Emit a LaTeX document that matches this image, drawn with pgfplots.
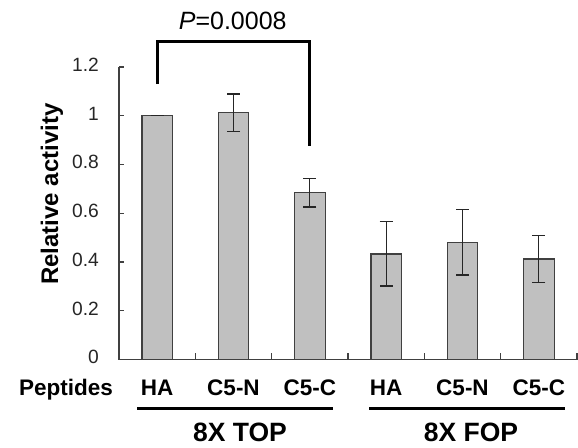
\documentclass[border=0pt]{standalone}
\usepackage{pgfplots}
\pgfplotsset{compat=1.18}
\usepackage{fontspec}
\setmainfont{Liberation Sans}
\definecolor{barfill}{HTML}{C0C0C0}
\definecolor{edge}{HTML}{404040}
\definecolor{axiscol}{HTML}{404040}
\definecolor{errcol}{HTML}{262626}
\begin{document}
\begin{tikzpicture}
\path[use as bounding box] (-119bp,-88.5bp) rectangle (459bp,359.5bp);
\begin{axis}[
  at={(0,0)}, anchor=south west,
  scale only axis, width=458bp, height=292.5bp,
  xmin=-0.5, xmax=5.5, ymin=0, ymax=1.2,
  axis x line*=bottom, axis y line*=left,
  axis line style={draw=axiscol, line width=1.2bp},
  ybar, bar width=0.4,
  clip=false,
  xtick={0,1,2,3,4,5},
  xticklabels={HA,C5-N,C5-C,HA,C5-N,C5-C},
  major x tick style={draw=none},
  minor xtick={0.5,1.5,2.5,3.5,4.5,5.5},
  minor x tick style={draw=axiscol, line width=1.2bp},
  minor tick length=6bp,
  major tick length=5bp,
  tick align=inside,
  ytick={0,0.2,0.4,0.6,0.8,1,1.2},
  yticklabels={0,0.2,0.4,0.6,0.8,1,1.2},
  y tick style={draw=axiscol, line width=1.2bp},
  xticklabel style={anchor=base, yshift=-36bp, inner sep=0pt, font=\fontsize{22.5bp}{26bp}\selectfont\bfseries},
  yticklabel style={anchor=east, inner sep=0pt, xshift=-20bp, font=\fontsize{19.2bp}{22bp}\selectfont, text=black!85},
  typeset ticklabels with strut,
]
\addplot[fill=barfill, draw=edge, line width=1.2bp,
  error bars/.cd, y dir=both, y explicit,
  error bar style={line width=1.3bp, color=errcol},
  error mark options={rotate=90, mark size=6.5bp, line width=1.3bp, color=errcol}]
  table[x=x, y=y, y error=e] {
x y e
0 1.000 0
1 1.012 0.077
2 0.684 0.058
3 0.433 0.132
4 0.481 0.134
5 0.412 0.097
};
\draw[line width=3bp, black] (axis cs:0,1.130) -- (axis cs:0,1.304) -- (axis cs:2,1.304) -- (axis cs:2,0.876);
\node[anchor=base, inner sep=0pt, font=\fontsize{25bp}{29bp}\selectfont] at (axis cs:0.99,1.352) {\textit{P}=0.0008};
\draw[line width=3bp, black] (axis cs:-0.26,-0.203) -- (axis cs:2.31,-0.203);
\draw[line width=3bp, black] (axis cs:2.78,-0.203) -- (axis cs:5.34,-0.203);
\end{axis}
\node[anchor=base east, inner sep=0pt, font=\fontsize{22.5bp}{26bp}\selectfont\bfseries] at (-6bp,-36bp) {Peptides};
\node[anchor=base, inner sep=0pt, font=\fontsize{26.5bp}{30bp}\selectfont\bfseries] at (121bp,-81.5bp) {8X TOP};
\node[anchor=base, inner sep=0pt, font=\fontsize{26.5bp}{30bp}\selectfont\bfseries] at (352bp,-81.5bp) {8X FOP};
\node[rotate=90, inner sep=0pt, font=\fontsize{24bp}{28bp}\selectfont\bfseries] at (-67bp,165.5bp) {Relative activity};
\end{tikzpicture}
\end{document}
